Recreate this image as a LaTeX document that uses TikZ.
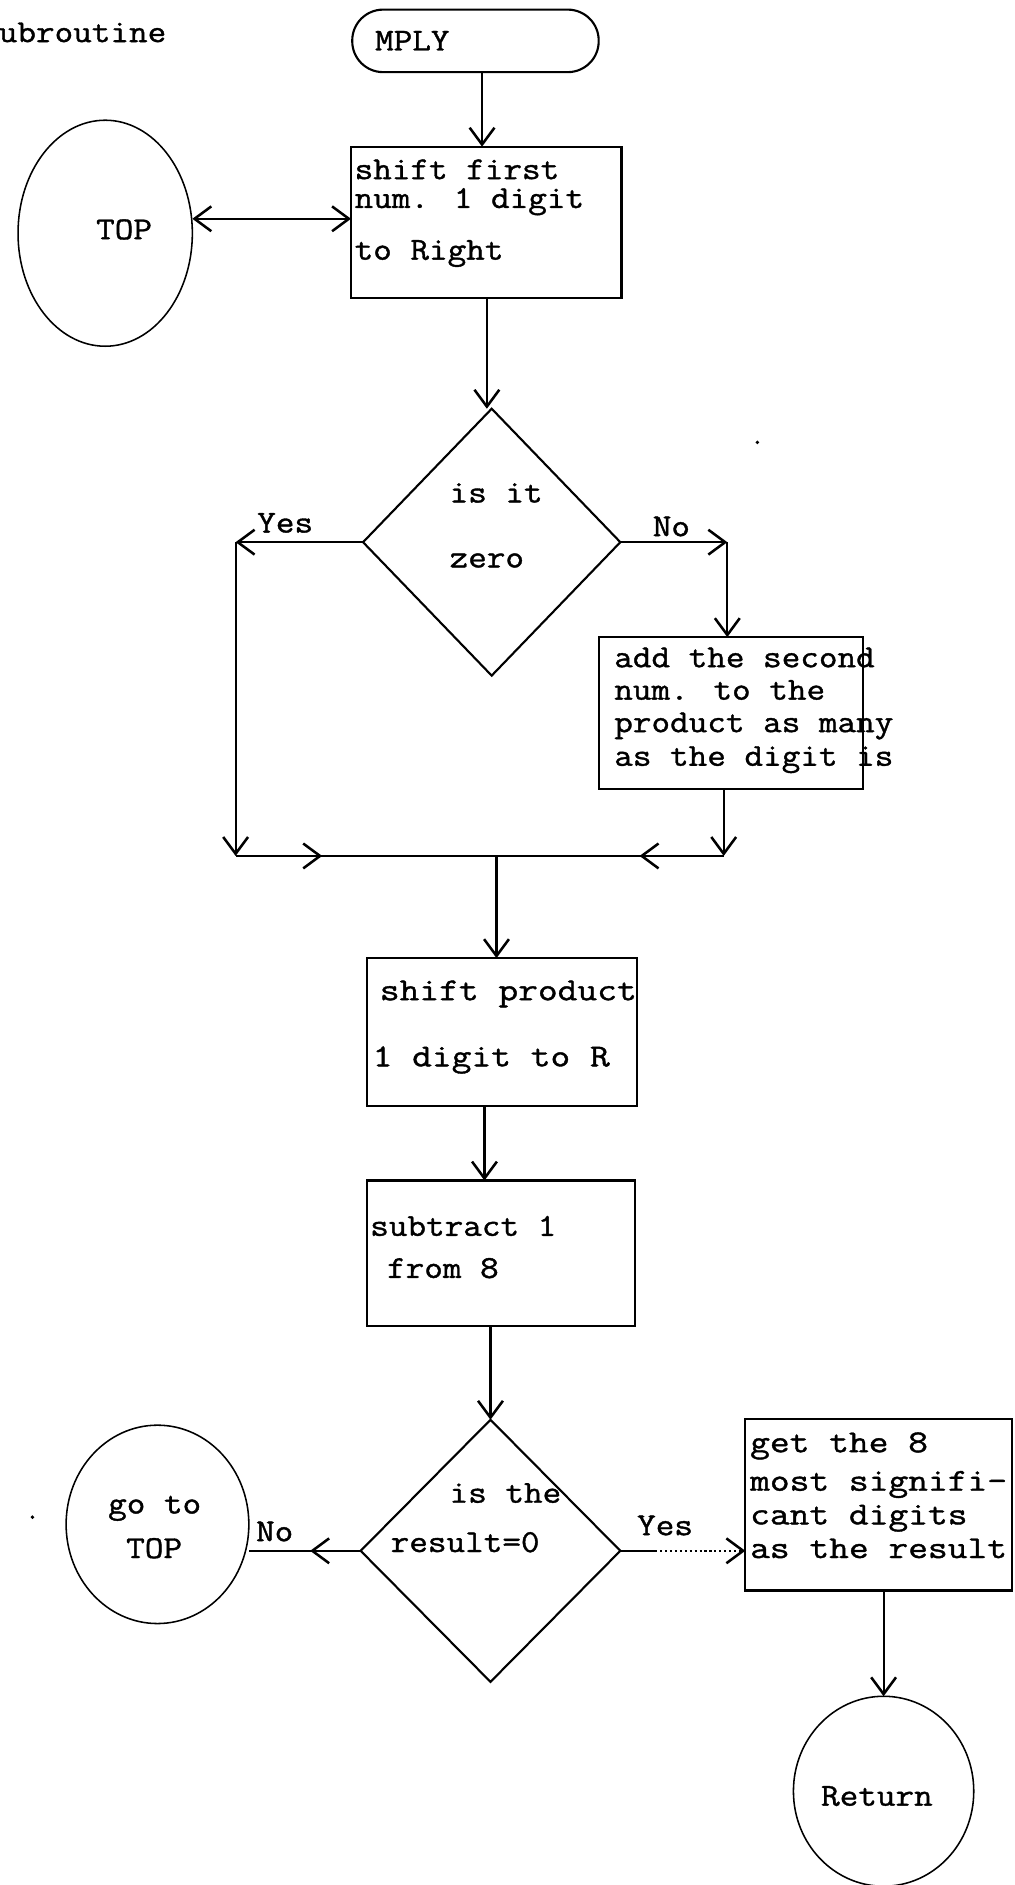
\documentclass[tikz,border=0pt]{standalone}
\usepackage{fontspec}
\newfontfamily\tw{Latin Modern Mono}[FakeStretch=1.13,FakeBold=1.2]
\newfontfamily\tww{Latin Modern Mono}[FakeStretch=1.2,FakeBold=1.2]
\usetikzlibrary{shapes.geometric,arrows.meta,calc}
\tikzset{barb/.tip={Straight Barb[length=0.42cm,width=0.62cm,line width=1.8pt]}}
\begin{document}
\begin{tikzpicture}[x=0.03cm,y=-0.03cm,
  every node/.style={inner sep=0pt,outer sep=0pt},
  box/.style={draw,line width=1.5pt,rectangle},
  dec/.style={draw,line width=1.5pt,diamond},
  oval/.style={draw,line width=1.1pt,ellipse},
  term/.style={draw,line width=1.5pt,rounded corners=0.77cm},
  txt/.style={font=\tw\fontsize{22.7}{27}\selectfont,anchor=base west},
  wtxt/.style={font=\tww\fontsize{22.7}{27}\selectfont,anchor=base west},
  ln/.style={line width=1.5pt},
  arr/.style={ln,-barb},
]
\useasboundingbox (0,0) rectangle (844,1568);
% shapes
\node[term,minimum width=6.15cm,minimum height=1.56cm] (term) at (395.5,34) {};
\node[box,minimum width=6.75cm,minimum height=3.78cm] (b1) at (404.5,185) {};
\node[oval,minimum width=4.35cm,minimum height=5.64cm] (top) at (87.5,194) {};
\node[dec,minimum width=6.42cm,minimum height=6.66cm] (d1) at (409,451) {};
\node[box,minimum width=6.6cm,minimum height=3.78cm] (b2) at (608,593) {};
\node[box,minimum width=6.75cm,minimum height=3.69cm] (b3) at (417.5,858.5) {};
\node[box,minimum width=6.69cm,minimum height=3.63cm] (b4) at (416.5,1042.5) {};
\node[dec,minimum width=6.48cm,minimum height=6.54cm] (d2) at (408,1290) {};
\node[oval,minimum width=4.56cm,minimum height=4.95cm] (goto) at (131,1268) {};
\node[box,minimum width=6.66cm,minimum height=4.29cm] (b5) at (731,1251.5) {};
\node[oval,minimum width=4.5cm,minimum height=4.74cm] (ret) at (735,1490) {};
% texts
\node[txt] (tsub) at (-1,35) {ubroutine};
\node[txt] (tterm) at (312,42) {MPLY};
\node[txt] (t1a) at (295,149) {shift first};
\node[txt] (t1b) at (295,173) {num. 1 digit};
\node[txt] (t1c) at (295,216) {to Right};
\node[txt] (ttop) at (80,199) {TOP};
\node[txt] (td1a) at (374,418) {is it};
\node[txt] (td1b) at (374,472) {zero};
\node[txt] (tyes1) at (214,443) {Yes};
\node[txt] (tno1) at (543,446) {No};
\node[txt] (t2a) at (511,555) {add the second};
\node[txt] (t2b) at (511,582) {num. to the};
\node[txt] (t2c) at (511,609) {product as many};
\node[txt] (t2d) at (511,637) {as the digit is};
\node[wtxt] (t3a) at (316,832) {shift product};
\node[wtxt] (t3b) at (310,887) {1 digit to R};
\node[txt] (t4a) at (308,1028) {subtract 1};
\node[txt] (t4b) at (322,1063) {from 8};
\node[txt] (td2a) at (374,1250) {is the};
\node[txt] (td2b) at (325,1291) {result=0};
\node[txt] (tno2) at (213,1282) {No};
\node[txt] (tyes2) at (530,1277) {Yes};
\node[txt] (tg1) at (90,1259) {go to};
\node[txt] (tg2) at (105,1296) {TOP};
\node[wtxt] (t5a) at (624,1208) {get the 8};
\node[wtxt] (t5b) at (624,1240) {most signifi-};
\node[wtxt] (t5c) at (624,1268) {cant digits};
\node[wtxt] (t5d) at (624,1296) {as the result};
\node[txt] (tret) at (683,1502) {Return};
% dots
\fill (27,1262) circle (1.6);
\fill (630,368) circle (1.6);
% connectors
\coordinate (xa) at (401,0);
\draw[arr] (term.south -| xa) -- (b1.north -| xa);
\coordinate (ya) at (0,182);
\draw[ln,barb-barb] (ya -| top.east) -- (ya -| b1.west);
\coordinate (xb) at (405,0);
\draw[arr] (b1.south -| xb) -- (d1.north -| xb);
\coordinate (yesc) at (196,451);
\coordinate (yesb) at (196,712);
\draw[arr] (d1.west) -- (yesc);
\draw[arr] (yesc) -- (yesb);
\coordinate (noc) at (605,451);
\draw[arr] (d1.east) -- (noc);
\draw[arr] (noc) -- (b2.north -| noc);
\coordinate (nob) at (602,712);
\draw[arr] (b2.south -| nob) -- (nob);
\draw[ln] (yesb) -- (nob);
\coordinate (ma) at (268,712);
\coordinate (mb) at (532,712);
\draw[arr] (yesb) -- (ma);
\draw[arr] (nob) -- (mb);
\coordinate (jn) at (413,712);
\draw[arr] (jn) -- (b3.north -| jn);
\coordinate (xc) at (403,0);
\draw[arr] (b3.south -| xc) -- (b4.north -| xc);
\draw[arr] (b4.south -| d2.north) -- (d2.north);
\draw[ln] (d2.west) -- (d2.west -| goto.east);
\coordinate (mc) at (258,1290);
\draw[arr] (d2.west) -- (mc);
\coordinate (ys) at (545,1290);
\draw[ln] (d2.east) -- (ys);
\draw[ln,dotted] (ys) -- (b5.west |- ys);
\draw[arr] ($(b5.west |- ys)+(-4,0)$) -- (b5.west |- ys);
\coordinate (xd) at (735,0);
\draw[arr] (b5.south -| xd) -- (ret.north);
\end{tikzpicture}
\end{document}
